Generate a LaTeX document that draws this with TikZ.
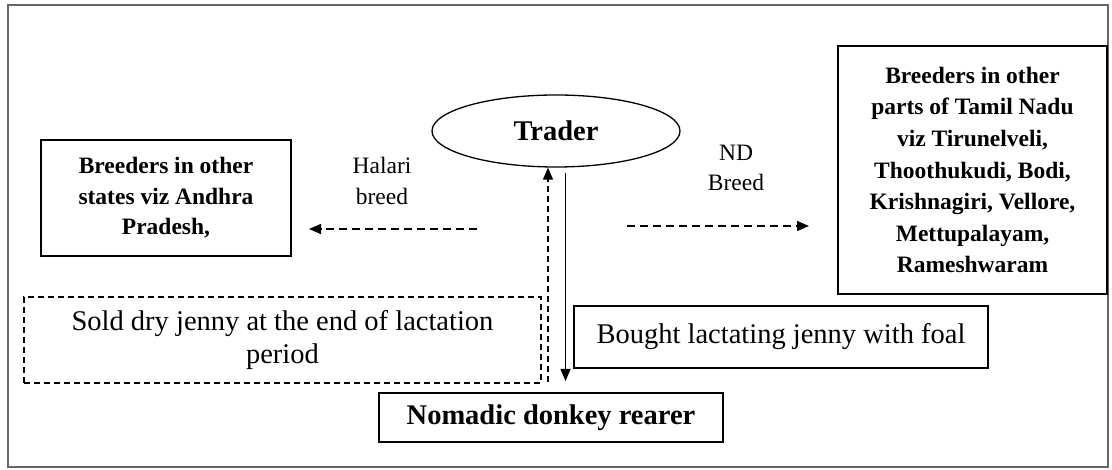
\documentclass[tikz,border=0pt]{standalone}
\usepackage{fontspec}
\setmainfont{Liberation Serif}
\usetikzlibrary{shapes.geometric,arrows.meta}
\begin{document}
\begin{tikzpicture}[x=1pt,y=-1pt,
    big/.style={font=\fontsize{28.5}{33}\selectfont},
    small/.style={font=\fontsize{23.5}{30.5}\selectfont},
    flow/.style={line width=1.4pt,-{Triangle[length=12pt,width=10pt]}}]
    \tikzstyle{box}=[draw,line width=1.3pt,inner sep=0pt,align=center]

    \useasboundingbox (0,0) rectangle (1112,470);
    \node[draw=black!60,line width=1.6pt,minimum width=1100pt,minimum height=462pt,inner sep=0pt] (frame) at (558,236) {};

    \node[ellipse,draw,line width=1.3pt,minimum width=248pt,minimum height=72pt,big] (trader) at (556,131) {\bfseries Trader};
    \node[box,small,minimum width=250pt,minimum height=116pt] (otherstates) at (166,198)
        {\bfseries Breeders in other\\\bfseries states viz Andhra\\\bfseries Pradesh,};
    \node[box,small,font=\fontsize{23.5}{31.6}\selectfont,minimum width=269pt,minimum height=248pt] (tamilnadu) at (972.5,170)
        {\bfseries Breeders in other\\\bfseries parts of Tamil Nadu\\\bfseries viz Tirunelveli,\\\bfseries Thoothukudi, Bodi,\\\bfseries Krishnagiri, Vellore,\\\bfseries Mettupalayam,\\\bfseries Rameshwaram};
    \node[box,big,minimum width=414pt,minimum height=62pt] (bought) at (781,337) {Bought lactating jenny with foal};
    \node[box,big,dashed,dash pattern=on 6pt off 4pt,line width=1.1pt,minimum width=517pt,minimum height=86pt] (sold) at (282.5,340)
        {Sold dry jenny at the end of lactation\\period};
    \node[box,big,minimum width=344pt,minimum height=49pt] (rearer) at (551,417.5) {\bfseries Nomadic donkey rearer};

    \node[small,align=center] (halari) at (382,181) {Halari\\breed};
    \node[small,align=center] (nd) at (736,168) {ND\\Breed};

    \coordinate (halaristart) at (477,229);
    \coordinate (halariend) at (309,229);
    \coordinate (ndstart) at (627,226);
    \coordinate (ndend) at (809,226);
    \coordinate (soldstart) at (548,382);
    \coordinate (boughtstart) at (565.5,173);
    \coordinate (boughtend) at (565.5,381);

    \draw[flow,dash pattern=on 8pt off 5pt] (halaristart) -- (halariend);
    \draw[flow,dash pattern=on 8pt off 5pt] (ndstart) -- (ndend);
    \draw[flow,dash pattern=on 6pt off 4pt] (soldstart) -- (soldstart |- trader.south);
    \draw[flow] (boughtstart) -- (boughtend);

  \end{tikzpicture}
\end{document}
